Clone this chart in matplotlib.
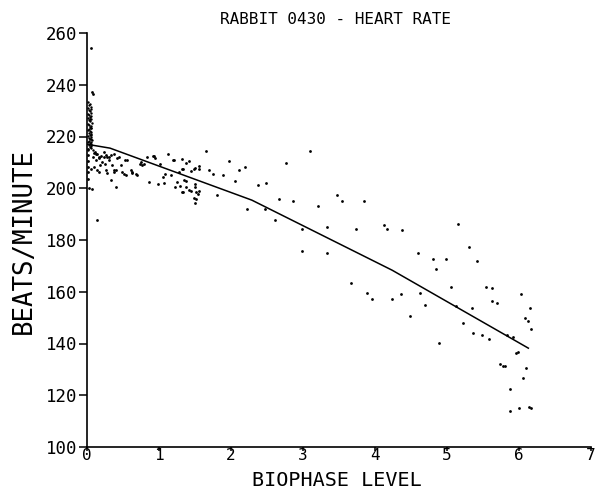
import matplotlib
matplotlib.use("Agg")
import matplotlib.pyplot as plt

title = "RABBIT 0430 - HEART RATE"
xlabel = "BIOPHASE LEVEL"
ylabel = "BEATS/MINUTE"
xticks = [0, 1, 2, 3, 4, 5, 6, 7]
yticks = [100, 120, 140, 160, 180, 200, 220, 240, 260]

# fitted curve (piecewise)
fit_x = [0.0, 0.32, 2.29, 4.24, 6.13]
fit_y = [217.0, 215.5, 195.4, 168.3, 138.2]

# dense column of observations at biophase ~0
col_x = [0.02, 0.04, 0.03, 0.05, 0.02, 0.06, 0.03, 0.04, 0.05, 0.02,
         0.03, 0.06, 0.04, 0.02, 0.05, 0.03, 0.04, 0.07, 0.02, 0.03,
         0.05, 0.04, 0.06, 0.03, 0.02, 0.04, 0.05, 0.03, 0.06, 0.04,
         0.02, 0.05, 0.03, 0.04, 0.07, 0.03, 0.05, 0.02, 0.04, 0.06,
         0.03, 0.05, 0.04, 0.06, 0.02, 0.08, 0.06, 0.05, 0.06, 0.04]
col_y = [233.2, 232.6, 232.0, 231.5, 231.0, 230.6, 230.1, 229.7, 229.2, 228.8,
         228.3, 227.9, 227.5, 227.0, 226.6, 226.2, 225.8, 225.4, 225.0, 224.6,
         224.2, 223.8, 223.4, 223.0, 222.6, 222.2, 221.8, 221.4, 221.0, 220.6,
         220.2, 219.8, 219.5, 219.1, 218.7, 218.4, 218.0, 217.7, 217.3, 217.0,
         216.6, 216.2, 215.8, 215.4, 214.9, 214.6, 218.9, 220.4, 223.1, 226.9]

# remaining observations
obs_x = [0.06, 0.07, 0.09, 0.01, 0.01, 0.01, 0.01, 0.01, 0.01, 0.03,
         0.10, 0.12, 0.14, 0.09, 0.17, 0.13, 0.19, 0.24, 0.26, 0.28,
         0.31, 0.21, 0.25, 0.18, 0.10, 0.05, 0.14, 0.17, 0.33, 0.38,
         0.42, 0.44, 0.26, 0.28, 0.35, 0.38, 0.40, 0.47, 0.49, 0.51,
         0.54, 0.56, 0.61, 0.63, 0.68, 0.70, 0.75, 0.77, 0.79, 0.84,
         0.86, 0.93, 0.95, 0.98, 1.02, 1.05, 1.07, 1.12, 1.09, 1.16,
         1.19, 1.21, 1.22, 1.25, 1.28, 1.32, 1.32, 0.40, 0.34, 0.07,
         0.14, 0.11, 0.16, 0.23, 0.30, 0.37, 0.53, 0.62, 0.74, 0.92,
         1.32, 1.38, 1.41, 1.34, 1.48, 1.50, 1.45, 1.55, 1.56, 1.69,
         1.75, 1.89, 1.97, 2.11, 2.20, 2.77, 2.06, 2.38, 2.48, 2.67,
         2.86, 2.22, 2.47, 2.61, 1.35, 1.38, 1.29, 1.38, 1.44, 1.50,
         1.52, 1.55, 1.54, 1.49, 1.52, 1.50, 1.80, 1.33, 1.41, 1.50,
         1.65, 3.10, 3.21, 3.47, 3.54, 3.85, 2.99, 3.34, 3.73, 4.12,
         4.16, 4.37, 2.99, 3.34, 4.60, 5.15, 5.30, 3.66, 3.89, 3.96,
         4.24, 4.36, 4.48, 4.81, 4.99, 4.85, 4.62, 4.70, 4.89, 5.06,
         5.42, 5.12, 5.22, 5.35, 5.36, 5.49, 5.59, 5.54, 5.63, 5.63,
         5.69, 5.84, 5.92, 5.96, 5.98, 5.74, 5.78, 5.81, 6.03, 6.15,
         6.08, 6.12, 6.17, 6.10, 6.05, 5.88, 5.87, 6.00, 6.14, 6.17]
obs_y = [254.3, 237.2, 236.3, 215.0, 212.8, 210.6, 208.4, 206.1, 203.5, 200.0,
         213.7, 213.1, 213.4, 212.1, 211.5, 210.8, 212.4, 214.0, 212.8, 211.9,
         212.1, 210.2, 209.5, 208.9, 208.2, 207.6, 207.0, 206.3, 212.8, 213.1,
         211.5, 212.1, 207.0, 205.9, 208.9, 207.0, 207.2, 208.9, 206.3, 205.7,
         205.0, 210.8, 207.0, 205.9, 205.7, 205.0, 210.2, 208.9, 209.5, 212.1,
         202.4, 212.5, 211.5, 201.8, 209.5, 204.4, 202.1, 213.4, 205.7, 205.0,
         211.1, 210.8, 200.3, 202.4, 206.3, 207.6, 198.6, 200.5, 203.1, 199.9,
         187.9, 214.0, 212.1, 212.1, 211.1, 206.3, 210.8, 206.3, 209.5, 212.4,
         211.2, 209.8, 210.5, 207.6, 207.6, 207.9, 206.7, 208.6, 207.6, 207.2,
         205.4, 205.3, 210.6, 207.0, 208.2, 209.9, 202.7, 201.2, 202.2, 195.7,
         195.1, 191.9, 191.9, 187.6, 203.1, 202.8, 200.8, 200.5, 199.0, 200.5,
         198.6, 199.0, 197.9, 196.4, 196.0, 194.3, 197.3, 198.6, 199.5, 201.8,
         214.4, 214.3, 193.0, 197.3, 195.0, 195.0, 184.4, 185.1, 184.3, 185.8,
         184.3, 184.0, 175.7, 175.0, 174.8, 186.2, 177.3, 163.5, 159.5, 157.1,
         157.2, 159.3, 150.5, 172.6, 172.8, 168.6, 159.7, 155.0, 140.3, 161.9,
         172.0, 154.4, 148.0, 153.8, 144.2, 143.1, 141.6, 161.9, 161.6, 156.3,
         155.7, 143.2, 142.4, 136.3, 136.6, 131.9, 131.2, 131.3, 159.3, 153.8,
         149.9, 148.7, 145.5, 130.6, 126.7, 122.6, 113.8, 114.9, 115.3, 114.9]

mono = "DejaVu Sans Mono"

fig = plt.figure(figsize=(5.96, 4.91), dpi=100)
ax = fig.add_axes([87 / 596, 1 - 447 / 491, (591 - 87) / 596, (447 - 33) / 491])

ax.scatter(col_x, col_y, s=3, c="black", linewidths=0, zorder=3)
ax.scatter(obs_x, obs_y, s=4, c="black", linewidths=0, zorder=3)
ax.plot(fit_x, fit_y, color="black", lw=1.1, zorder=4)

ax.set_xlim(0, 7)
ax.set_ylim(100, 260)
ax.set_xticks(xticks)
ax.set_yticks(yticks)
ax.set_xticklabels([str(t) for t in xticks], fontfamily=mono, fontsize=11.5)
ax.set_yticklabels([str(t) for t in yticks], fontfamily=mono, fontsize=12.5)
ax.tick_params(axis="y", direction="out", length=6, width=1.1, pad=1)
ax.tick_params(axis="x", direction="out", length=3, width=1.1, pad=-2)

for side in ("top", "right"):
    ax.spines[side].set_visible(False)
for side in ("left", "bottom"):
    ax.spines[side].set_linewidth(1.2)
    ax.spines[side].set_color("black")

fig.text(336 / 596, 1 - 20 / 491, title, fontfamily=mono, fontsize=11.5,
         ha="center", va="center")
fig.text(337 / 596, 1 - 486 / 491, xlabel, fontfamily=mono, fontsize=14.5,
         ha="center", va="baseline")
fig.text(24 / 596, 1 - 241 / 491, ylabel, fontfamily=mono, fontsize=18.5,
         ha="center", va="center", rotation=90)

fig.savefig("out.png", dpi=100)
